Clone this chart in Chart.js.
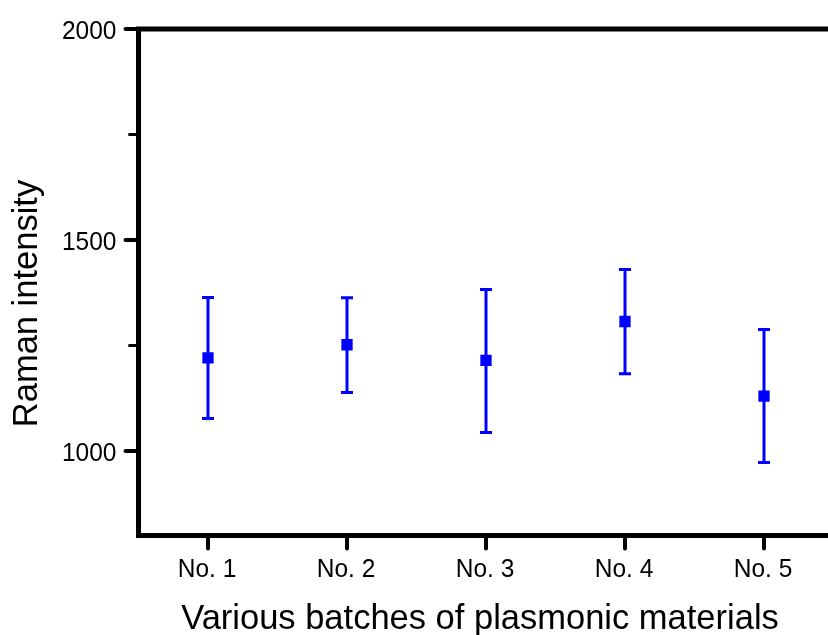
<!DOCTYPE html>
<html><head><meta charset="utf-8">
<script src="https://cdn.jsdelivr.net/npm/chart.js@4/dist/chart.umd.min.js"></script>
<style>html,body{margin:0;padding:0;background:#fff;overflow:hidden;width:828px;height:635px}
#wrap{position:absolute;left:0;top:0;width:850px;height:635px}</style>
</head><body><div id="wrap"><canvas id="c" width="850" height="635" style="width:850px;height:635px"></canvas></div>
<script>
const categories = ['No. 1', 'No. 2', 'No. 3', 'No. 4', 'No. 5'];
const meanValues = [1221, 1252, 1215, 1307, 1130];
const upperValues = [1364, 1363, 1383, 1430, 1288];
const lowerValues = [1077, 1139, 1044, 1183, 973];
const yMajorTicks = [1000, 1500, 2000];
const yMinorTicks = [1250, 1750];
const xTitle = 'Various batches of plasmonic materials';
const yTitle = 'Raman intensity';

const FONT = '"Liberation Sans", Arial, sans-serif';
const BLUE = '#0000ff';

const errorBars = {
  id: 'errorBars',
  beforeDatasetsDraw(chart) {
    const ctx = chart.ctx, xs = chart.scales.x, ys = chart.scales.y;
    ctx.save();
    ctx.strokeStyle = BLUE;
    ctx.lineWidth = 3;
    categories.forEach((c, i) => {
      const x = xs.getPixelForValue(i);
      const yt = ys.getPixelForValue(upperValues[i]);
      const yb = ys.getPixelForValue(lowerValues[i]);
      ctx.beginPath();
      ctx.moveTo(x, yt); ctx.lineTo(x, yb);
      ctx.moveTo(x - 6, yt); ctx.lineTo(x + 6, yt);
      ctx.moveTo(x - 6, yb); ctx.lineTo(x + 6, yb);
      ctx.stroke();
    });
    ctx.restore();
  }
};

function stretchedText(ctx, text, x, baseY, align) {
  ctx.save();
  ctx.translate(x, baseY);
  ctx.scale(1, 1.08);
  ctx.textAlign = align;
  ctx.textBaseline = 'alphabetic';
  ctx.fillText(text, 0, 0);
  ctx.restore();
}

const frame = {
  id: 'frame',
  afterDraw(chart) {
    const ctx = chart.ctx, a = chart.chartArea, xs = chart.scales.x, ys = chart.scales.y;
    ctx.save();
    ctx.strokeStyle = '#000';
    ctx.fillStyle = '#000';
    ctx.lineCap = 'round';
    ctx.font = '24.5px ' + FONT;
    yMajorTicks.forEach(v => {
      const y = ys.getPixelForValue(v);
      ctx.lineWidth = 4;
      ctx.beginPath(); ctx.moveTo(a.left - 13, y); ctx.lineTo(a.left, y); ctx.stroke();
      stretchedText(ctx, String(v), 116.5, y + 9.5, 'right');
    });
    yMinorTicks.forEach(v => {
      const y = ys.getPixelForValue(v);
      ctx.lineWidth = 3;
      ctx.beginPath(); ctx.moveTo(a.left - 9, y); ctx.lineTo(a.left, y); ctx.stroke();
    });
    categories.forEach((c, i) => {
      const x = xs.getPixelForValue(i);
      ctx.lineWidth = 4;
      ctx.beginPath(); ctx.moveTo(x, a.bottom); ctx.lineTo(x, a.bottom + 13); ctx.stroke();
      stretchedText(ctx, c, x - 1, 576.5, 'center');
    });
    ctx.lineCap = 'butt';
    ctx.lineWidth = 5;
    ctx.strokeRect(a.left, a.top, a.right - a.left, a.bottom - a.top);
    // titles
    ctx.font = '34.5px ' + FONT;
    ctx.textAlign = 'center';
    ctx.textBaseline = 'alphabetic';
    ctx.fillText(xTitle, 480, 628.5);
    ctx.translate(37, 303.5);
    ctx.rotate(-Math.PI / 2);
    ctx.fillText(yTitle, 0, 0);
    ctx.restore();
  }
};

new Chart(document.getElementById('c'), {
  type: 'line',
  data: {
    labels: categories,
    datasets: [{
      data: meanValues,
      showLine: false,
      pointStyle: 'rect',
      pointRadius: 8,
      pointHoverRadius: 8,
      pointBorderWidth: 0,
      backgroundColor: BLUE,
      borderColor: BLUE
    }]
  },
  options: {
    responsive: false,
    animation: false,
    events: [],
    layout: { padding: { top: 29, right: 16.5, left: 0, bottom: 0 } },
    plugins: { legend: { display: false }, tooltip: { enabled: false } },
    scales: {
      x: {
        type: 'category',
        offset: true,
        grid: { display: false },
        border: { display: false },
        ticks: { display: false },
        afterFit(s) { s.height = 99.5; }
      },
      y: {
        min: 800, max: 2000,
        grid: { display: false },
        border: { display: false },
        ticks: { display: false },
        afterFit(s) { s.width = 138.5; }
      }
    }
  },
  plugins: [errorBars, frame]
});
</script></body></html>
